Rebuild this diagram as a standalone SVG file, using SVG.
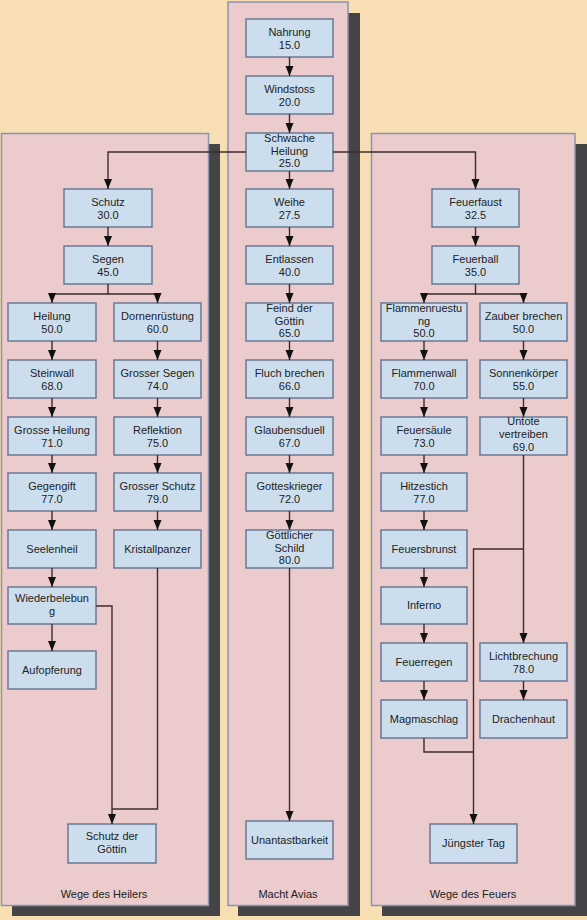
<svg xmlns="http://www.w3.org/2000/svg" width="587" height="920" viewBox="0 0 587 920">
<style>
.bg{fill:#F7DFB3}
.sh{fill:#444446}
.pn{fill:#EBCBCB;stroke:#8A94AE;stroke-width:1.5}
.nd rect{fill:#CCDEEE;stroke:#6A7896;stroke-width:1.5}
text{font-family:"Liberation Sans",Arial,sans-serif;font-size:11px;fill:#222;text-anchor:middle}
.cn path{fill:none;stroke:#3E2C2C;stroke-width:1.4}
</style>
<defs>
<marker id="ar" markerWidth="10" markerHeight="9" refX="10" refY="4.5" orient="auto" markerUnits="userSpaceOnUse" viewBox="0 0 10 9">
<path d="M0,0.5 L10,4.5 L0,8.5 Z" fill="#111"/>
</marker>
</defs>
<rect class="bg" x="0" y="0" width="587" height="920"/>
<g id="panels">
<rect class="sh" x="12" y="144" width="208" height="772"/>
<rect class="sh" x="238" y="13" width="122" height="903"/>
<rect class="sh" x="382" y="144" width="205" height="772"/>
<rect class="pn" x="1.5" y="133.5" width="207" height="772"/>
<rect class="pn" x="228" y="2" width="120" height="903.5"/>
<rect class="pn" x="371.5" y="133.5" width="203.5" height="772"/>
<text x="104" y="898">Wege des Heilers</text>
<text x="288" y="898">Macht Avias</text>
<text x="473" y="898">Wege des Feuers</text>
</g>
<g id="n-nahrung" class="nd"><rect x="246" y="19" width="87" height="38"/><text x="289.5" y="36">Nahrung</text><text x="289.5" y="48.5">15.0</text></g>
<g id="n-windstoss" class="nd"><rect x="246" y="76" width="87" height="38"/><text x="289.5" y="93">Windstoss</text><text x="289.5" y="105.5">20.0</text></g>
<g id="n-schwache" class="nd"><rect x="246" y="133" width="87" height="38"/><text x="289.5" y="142">Schwache</text><text x="289.5" y="154.5">Heilung</text><text x="289.5" y="167">25.0</text></g>
<g id="n-weihe" class="nd"><rect x="246" y="189" width="87" height="38"/><text x="289.5" y="206">Weihe</text><text x="289.5" y="218.5">27.5</text></g>
<g id="n-entlassen" class="nd"><rect x="246" y="246" width="87" height="38"/><text x="289.5" y="263">Entlassen</text><text x="289.5" y="275.5">40.0</text></g>
<g id="n-feind" class="nd"><rect x="246" y="303" width="87" height="38"/><text x="289.5" y="311.5">Feind der</text><text x="289.5" y="324.5">Göttin</text><text x="289.5" y="337">65.0</text></g>
<g id="n-fluch" class="nd"><rect x="246" y="360" width="87" height="38"/><text x="289.5" y="377">Fluch brechen</text><text x="289.5" y="389.5">66.0</text></g>
<g id="n-glauben" class="nd"><rect x="246" y="417" width="87" height="38"/><text x="289.5" y="434">Glaubensduell</text><text x="289.5" y="446.5">67.0</text></g>
<g id="n-gottes" class="nd"><rect x="246" y="473" width="87" height="38"/><text x="289.5" y="490">Gotteskrieger</text><text x="289.5" y="502.5">72.0</text></g>
<g id="n-goettlicher" class="nd"><rect x="246" y="530" width="87" height="38"/><text x="289.5" y="538.5">Göttlicher</text><text x="289.5" y="551.5">Schild</text><text x="289.5" y="564">80.0</text></g>
<g id="n-unantast" class="nd"><rect x="246" y="821" width="87" height="38"/><text x="289.5" y="843.5">Unantastbarkeit</text></g>
<g id="n-schutz" class="nd"><rect x="64" y="189" width="88" height="38"/><text x="108" y="206">Schutz</text><text x="108" y="218.5">30.0</text></g>
<g id="n-segen" class="nd"><rect x="64" y="246" width="88" height="38"/><text x="108" y="263">Segen</text><text x="108" y="275.5">45.0</text></g>
<g id="n-heilung" class="nd"><rect x="8" y="303" width="88" height="38"/><text x="52" y="320">Heilung</text><text x="52" y="332.5">50.0</text></g>
<g id="n-steinwall" class="nd"><rect x="8" y="360" width="88" height="38"/><text x="52" y="377">Steinwall</text><text x="52" y="389.5">68.0</text></g>
<g id="n-grosseheilung" class="nd"><rect x="8" y="417" width="88" height="38"/><text x="52" y="434">Grosse Heilung</text><text x="52" y="446.5">71.0</text></g>
<g id="n-gegengift" class="nd"><rect x="8" y="473" width="88" height="38"/><text x="52" y="490">Gegengift</text><text x="52" y="502.5">77.0</text></g>
<g id="n-seelenheil" class="nd"><rect x="8" y="530" width="88" height="38"/><text x="52" y="552.5">Seelenheil</text></g>
<g id="n-wiederbelebung" class="nd"><rect x="8" y="587" width="88" height="37"/><text x="52" y="602">Wiederbelebun</text><text x="52" y="614.5">g</text></g>
<g id="n-aufopferung" class="nd"><rect x="8" y="651" width="88" height="38"/><text x="52" y="673.5">Aufopferung</text></g>
<g id="n-dornen" class="nd"><rect x="114" y="303" width="87" height="38"/><text x="157.5" y="320">Dornenrüstung</text><text x="157.5" y="332.5">60.0</text></g>
<g id="n-grossersegen" class="nd"><rect x="114" y="360" width="87" height="38"/><text x="157.5" y="377">Grosser Segen</text><text x="157.5" y="389.5">74.0</text></g>
<g id="n-reflektion" class="nd"><rect x="114" y="417" width="87" height="38"/><text x="157.5" y="434">Reflektion</text><text x="157.5" y="446.5">75.0</text></g>
<g id="n-grosserschutz" class="nd"><rect x="114" y="473" width="87" height="38"/><text x="157.5" y="490">Grosser Schutz</text><text x="157.5" y="502.5">79.0</text></g>
<g id="n-kristall" class="nd"><rect x="114" y="530" width="87" height="38"/><text x="157.5" y="552.5">Kristallpanzer</text></g>
<g id="n-schutzgoettin" class="nd"><rect x="68" y="824" width="88" height="39"/><text x="112" y="840">Schutz der</text><text x="112" y="852.5">Göttin</text></g>
<g id="n-feuerfaust" class="nd"><rect x="432" y="189" width="87" height="38"/><text x="475.5" y="206">Feuerfaust</text><text x="475.5" y="218.5">32.5</text></g>
<g id="n-feuerball" class="nd"><rect x="432" y="246" width="87" height="38"/><text x="475.5" y="263">Feuerball</text><text x="475.5" y="275.5">35.0</text></g>
<g id="n-flammenr" class="nd"><rect x="381" y="303" width="86" height="38"/><text x="424" y="311.5">Flammenruestu</text><text x="424" y="324.5">ng</text><text x="424" y="337">50.0</text></g>
<g id="n-flammenwall" class="nd"><rect x="381" y="360" width="86" height="38"/><text x="424" y="377">Flammenwall</text><text x="424" y="389.5">70.0</text></g>
<g id="n-feuersaeule" class="nd"><rect x="381" y="417" width="86" height="38"/><text x="424" y="434">Feuersäule</text><text x="424" y="446.5">73.0</text></g>
<g id="n-hitzestich" class="nd"><rect x="381" y="473" width="86" height="38"/><text x="424" y="490">Hitzestich</text><text x="424" y="502.5">77.0</text></g>
<g id="n-feuersbrunst" class="nd"><rect x="381" y="530" width="86" height="38"/><text x="424" y="552.5">Feuersbrunst</text></g>
<g id="n-inferno" class="nd"><rect x="381" y="587" width="86" height="37"/><text x="424" y="609">Inferno</text></g>
<g id="n-feuerregen" class="nd"><rect x="381" y="643" width="86" height="38"/><text x="424" y="665.5">Feuerregen</text></g>
<g id="n-magma" class="nd"><rect x="381" y="700" width="86" height="38"/><text x="424" y="722.5">Magmaschlag</text></g>
<g id="n-zauber" class="nd"><rect x="480" y="303" width="87" height="38"/><text x="523.5" y="320">Zauber brechen</text><text x="523.5" y="332.5">50.0</text></g>
<g id="n-sonnen" class="nd"><rect x="480" y="360" width="87" height="38"/><text x="523.5" y="377">Sonnenkörper</text><text x="523.5" y="389.5">55.0</text></g>
<g id="n-untote" class="nd"><rect x="480" y="417" width="87" height="38"/><text x="523.5" y="425">Untote</text><text x="523.5" y="438">vertreiben</text><text x="523.5" y="450.5">69.0</text></g>
<g id="n-licht" class="nd"><rect x="480" y="643" width="87" height="38"/><text x="523.5" y="660">Lichtbrechung</text><text x="523.5" y="672.5">78.0</text></g>
<g id="n-drachen" class="nd"><rect x="480" y="700" width="87" height="38"/><text x="523.5" y="722.5">Drachenhaut</text></g>
<g id="n-juengster" class="nd"><rect x="430" y="824" width="87" height="39"/><text x="473.5" y="847">Jüngster Tag</text></g>
<g id="connectors" class="cn">
<path d="M289.5,57 V76" marker-end="url(#ar)"/>
<path d="M289.5,114 V133" marker-end="url(#ar)"/>
<path d="M289.5,171 V189" marker-end="url(#ar)"/>
<path d="M289.5,227 V246" marker-end="url(#ar)"/>
<path d="M289.5,284 V303" marker-end="url(#ar)"/>
<path d="M289.5,341 V360" marker-end="url(#ar)"/>
<path d="M289.5,398 V417" marker-end="url(#ar)"/>
<path d="M289.5,455 V473" marker-end="url(#ar)"/>
<path d="M289.5,511 V530" marker-end="url(#ar)"/>
<path d="M289.5,568 V821" marker-end="url(#ar)"/>
<path d="M246,152 H108 V189" marker-end="url(#ar)"/>
<path d="M333,152 H475.5 V189" marker-end="url(#ar)"/>
<path d="M108,227 V246" marker-end="url(#ar)"/>
<path d="M108,284 V294 H52 V303" marker-end="url(#ar)"/>
<path d="M108,294 H157.5 V303" marker-end="url(#ar)"/>
<path d="M52,341 V360" marker-end="url(#ar)"/>
<path d="M52,398 V417" marker-end="url(#ar)"/>
<path d="M52,455 V473" marker-end="url(#ar)"/>
<path d="M52,511 V530" marker-end="url(#ar)"/>
<path d="M52,568 V587" marker-end="url(#ar)"/>
<path d="M52,624 V651" marker-end="url(#ar)"/>
<path d="M157.5,341 V360" marker-end="url(#ar)"/>
<path d="M157.5,398 V417" marker-end="url(#ar)"/>
<path d="M157.5,455 V473" marker-end="url(#ar)"/>
<path d="M157.5,511 V530" marker-end="url(#ar)"/>
<path d="M96,606 H112 V824" marker-end="url(#ar)"/>
<path d="M157.5,568 V809 H112"/>
<path d="M475.5,227 V246" marker-end="url(#ar)"/>
<path d="M475.5,284 V294 H424 V303" marker-end="url(#ar)"/>
<path d="M475.5,294 H523.5 V303" marker-end="url(#ar)"/>
<path d="M424,341 V360" marker-end="url(#ar)"/>
<path d="M424,398 V417" marker-end="url(#ar)"/>
<path d="M424,455 V473" marker-end="url(#ar)"/>
<path d="M424,511 V530" marker-end="url(#ar)"/>
<path d="M424,568 V587" marker-end="url(#ar)"/>
<path d="M424,624 V643" marker-end="url(#ar)"/>
<path d="M424,681 V700" marker-end="url(#ar)"/>
<path d="M523.5,341 V360" marker-end="url(#ar)"/>
<path d="M523.5,398 V417" marker-end="url(#ar)"/>
<path d="M523.5,455 V643" marker-end="url(#ar)"/>
<path d="M523.5,681 V700" marker-end="url(#ar)"/>
<path d="M523.5,549 H473.5 V824" marker-end="url(#ar)"/>
<path d="M424,738 V752 H473.5"/>
</g>
</svg>
